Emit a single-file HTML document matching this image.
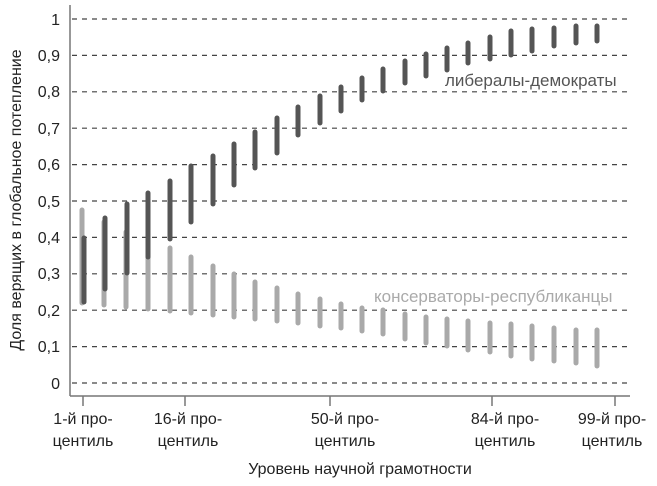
<!DOCTYPE html><html><head><meta charset="utf-8"><style>body{margin:0;background:#fff}svg{display:block}text{font-family:"Liberation Sans",sans-serif}</style></head><body>
<svg width="657" height="486" viewBox="0 0 657 486" xmlns="http://www.w3.org/2000/svg">
<g stroke="#444" stroke-width="1.2" stroke-dasharray="5,5">
<line x1="72" x2="630" y1="383" y2="383"/><line x1="72" x2="630" y1="346.6" y2="346.6"/><line x1="72" x2="630" y1="310.2" y2="310.2"/><line x1="72" x2="630" y1="273.8" y2="273.8"/><line x1="72" x2="630" y1="237.4" y2="237.4"/><line x1="72" x2="630" y1="201" y2="201"/><line x1="72" x2="630" y1="164.6" y2="164.6"/><line x1="72" x2="630" y1="128.2" y2="128.2"/><line x1="72" x2="630" y1="91.8" y2="91.8"/><line x1="72" x2="630" y1="55.4" y2="55.4"/><line x1="72" x2="630" y1="19" y2="19"/>
</g>
<g font-size="16" fill="#222" text-anchor="end">
<text x="60" y="389">0</text><text x="60" y="352">0,1</text><text x="60" y="316">0,2</text><text x="60" y="279">0,3</text><text x="60" y="243">0,4</text><text x="60" y="207">0,5</text><text x="60" y="170">0,6</text><text x="60" y="134">0,7</text><text x="60" y="97">0,8</text><text x="60" y="61">0,9</text><text x="60" y="25">1</text>
</g>
<g stroke="#777" stroke-width="1.5" fill="none">
<line x1="70" y1="5" x2="70" y2="396"/><line x1="70" y1="396" x2="630" y2="396"/>
<line x1="83" y1="396" x2="83" y2="406"/><line x1="185" y1="396" x2="185" y2="406"/><line x1="330" y1="396" x2="330" y2="406"/><line x1="492" y1="396" x2="492" y2="406"/><line x1="615" y1="396" x2="615" y2="406"/>
</g>
<g stroke="#a9a9a9" stroke-width="5" stroke-linecap="round">
<line x1="82" y1="210" x2="82" y2="303"/><line x1="104" y1="222" x2="104" y2="305"/><line x1="126" y1="232" x2="126" y2="307"/><line x1="148" y1="240" x2="148" y2="309"/><line x1="170" y1="248" x2="170" y2="311"/><line x1="191" y1="257" x2="191" y2="313"/><line x1="213" y1="266" x2="213" y2="315"/><line x1="234" y1="274" x2="234" y2="317"/><line x1="255" y1="282" x2="255" y2="319"/><line x1="277" y1="288" x2="277" y2="321"/><line x1="298" y1="294" x2="298" y2="323"/><line x1="320" y1="299" x2="320" y2="326"/><line x1="341" y1="304" x2="341" y2="328"/><line x1="362" y1="308" x2="362" y2="331"/><line x1="383" y1="310" x2="383" y2="334"/><line x1="405" y1="314" x2="405" y2="339"/><line x1="426" y1="317" x2="426" y2="343"/><line x1="447" y1="319" x2="447" y2="346"/><line x1="468" y1="321" x2="468" y2="350"/><line x1="490" y1="323" x2="490" y2="352"/><line x1="511" y1="324" x2="511" y2="356"/><line x1="532" y1="326" x2="532" y2="359"/><line x1="554" y1="328" x2="554" y2="361"/><line x1="576" y1="330" x2="576" y2="363"/><line x1="597" y1="330" x2="597" y2="366"/>
</g>
<g stroke="#555" stroke-width="5" stroke-linecap="round">
<line x1="84" y1="238" x2="84" y2="302"/><line x1="105" y1="218" x2="105" y2="289"/><line x1="127" y1="204" x2="127" y2="273"/><line x1="148" y1="193" x2="148" y2="257"/><line x1="170" y1="181" x2="170" y2="239"/><line x1="191" y1="166" x2="191" y2="222"/><line x1="213" y1="156" x2="213" y2="204"/><line x1="234" y1="144" x2="234" y2="185"/><line x1="255" y1="132" x2="255" y2="168"/><line x1="277" y1="118" x2="277" y2="153"/><line x1="298" y1="107" x2="298" y2="135"/><line x1="320" y1="96" x2="320" y2="123"/><line x1="341" y1="87" x2="341" y2="111"/><line x1="362" y1="78" x2="362" y2="100"/><line x1="383" y1="69" x2="383" y2="91"/><line x1="405" y1="61" x2="405" y2="83"/><line x1="426" y1="54" x2="426" y2="76"/><line x1="447" y1="48" x2="447" y2="70"/><line x1="468" y1="43" x2="468" y2="63"/><line x1="490" y1="37" x2="490" y2="59"/><line x1="511" y1="31" x2="511" y2="55"/><line x1="532" y1="29" x2="532" y2="51"/><line x1="554" y1="28" x2="554" y2="46"/><line x1="576" y1="26" x2="576" y2="43"/><line x1="597" y1="26" x2="597" y2="41"/>
</g>
<text x="445" y="86" font-size="17" fill="#555">либералы-демократы</text>
<text x="374" y="302" font-size="17" fill="#aaa">консерваторы-республиканцы</text>
<g font-size="16" fill="#222" text-anchor="middle">
<text x="83" y="424">1-й про-</text><text x="83" y="446">центиль</text>
<text x="188" y="424">16-й про-</text><text x="188" y="446">центиль</text>
<text x="345" y="424">50-й про-</text><text x="345" y="446">центиль</text>
<text x="505" y="424">84-й про-</text><text x="505" y="446">центиль</text>
<text x="612" y="424">99-й про-</text><text x="612" y="446">центиль</text>
<text x="360" y="474">Уровень научной грамотности</text>
</g>
<text transform="translate(21,200) rotate(-90)" font-size="16" fill="#222" text-anchor="middle">Доля верящих в глобальное потепление</text>
</svg>
</body></html>
